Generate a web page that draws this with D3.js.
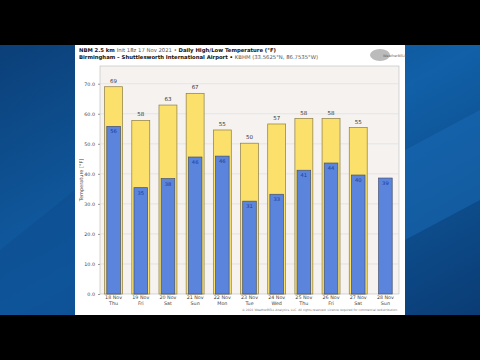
<!DOCTYPE html>
<html><head><meta charset="utf-8">
<script src="https://cdn.jsdelivr.net/npm/d3@7"></script>
<style>html,body{margin:0;padding:0;background:#000;}svg{display:block;font-family:"DejaVu Sans",sans-serif;}</style>
</head><body>
<svg id="c" width="480" height="360"></svg>
<script>
const dates = ["18 Nov","19 Nov","20 Nov","21 Nov","22 Nov","23 Nov","24 Nov","25 Nov","26 Nov","27 Nov","28 Nov"];
const days = ["Thu","Fri","Sat","Sun","Mon","Tue","Wed","Thu","Fri","Sat","Sun"];
const highs = [69.0, 57.8, 62.9, 66.8, 54.6, 50.2, 56.6, 58.4, 58.4, 55.4, null];
const lows = [55.8, 35.4, 38.4, 45.6, 45.9, 30.9, 33.2, 41.2, 43.6, 39.6, 38.6];
const yTicks = [0,10,20,30,40,50,60,70];

const svg = d3.select("#c");
// background
svg.append("rect").attr("x",0).attr("y",0).attr("width",480).attr("height",360).attr("fill","#000");
const defs = svg.append("defs");
const g1 = defs.append("linearGradient").attr("id","bg").attr("x1","0").attr("y1","0").attr("x2","1").attr("y2","1");
g1.append("stop").attr("offset","0").attr("stop-color","#0b3f78");
g1.append("stop").attr("offset","0.5").attr("stop-color","#1160a8");
g1.append("stop").attr("offset","1").attr("stop-color","#0a3c74");
svg.append("rect").attr("x",0).attr("y",45).attr("width",480).attr("height",270).attr("fill","url(#bg)");
svg.append("path").attr("d","M0,250 L75,190 L75,315 L0,315Z").attr("fill","#0d4d90").attr("opacity",0.6);
svg.append("path").attr("d","M405,150 L480,110 L480,200 L405,240Z").attr("fill","#1a6bb8").attr("opacity",0.5);
svg.append("rect").attr("x",75).attr("y",45).attr("width",330).attr("height",270).attr("fill","#fff");

// titles
const t1 = svg.append("text").attr("x",79).attr("y",52).attr("font-size",5.3).attr("fill","#111");
t1.append("tspan").attr("font-weight","bold").text("NBM 2.5 km ");
t1.append("tspan").attr("fill","#555").text("Init 18z 17 Nov 2021 • ");
t1.append("tspan").attr("font-weight","bold").text("Daily High/Low Temperature (°F)");
const t2 = svg.append("text").attr("x",79).attr("y",59).attr("font-size",5.3).attr("fill","#111");
t2.append("tspan").attr("font-weight","bold").text("Birmingham – Shuttlesworth International Airport • ");
t2.append("tspan").attr("fill","#555").text("KBHM (33.5625°N, 86.7535°W)");
// logo
svg.append("ellipse").attr("cx",380).attr("cy",55).attr("rx",10).attr("ry",6).attr("fill","#bbb");
svg.append("text").attr("x",383).attr("y",57).attr("font-size",3.5).attr("fill","#666").text("WeatherBELL");

const L=100, R=399, T=66, B=294;
const x = d3.scaleBand().domain(dates).range([L,R]);
const y = d3.scaleLinear().domain([0,75.9]).range([B,T]);

svg.append("rect").attr("x",L).attr("y",T).attr("width",R-L).attr("height",B-T).attr("fill","#f5f2f0").attr("stroke","#bbb").attr("stroke-width",0.6);
svg.append("g").selectAll("line").data(yTicks.slice(1)).join("line")
  .attr("x1",L).attr("x2",R).attr("y1",d=>y(d)).attr("y2",d=>y(d)).attr("stroke","#dcdcdc").attr("stroke-width",0.6);

const yAxis = svg.append("g").attr("transform",`translate(${L},0)`)
  .call(d3.axisLeft(y).tickValues(yTicks).tickFormat(d3.format(".1f")).tickSize(2));
yAxis.select(".domain").remove();
yAxis.selectAll("line").attr("stroke","#999");
yAxis.selectAll("text").attr("font-size",4.8).attr("fill","#444").attr("font-family","DejaVu Sans");
svg.append("text").attr("transform","translate(83,180) rotate(-90)").attr("text-anchor","middle")
  .attr("font-size",5).attr("fill","#444").text("Temperature [°F]");

const hw = x.bandwidth()*0.66, lw = x.bandwidth()*0.5;
const hiIdx = d3.range(dates.length).filter(i=>highs[i]!=null);
svg.append("g").selectAll("rect").data(hiIdx).join("rect")
  .attr("x",i=>x(dates[i])+(x.bandwidth()-hw)/2).attr("width",hw)
  .attr("y",i=>y(highs[i])).attr("height",i=>B-y(highs[i]))
  .attr("fill","#fbe16b").attr("stroke","#8c7d45").attr("stroke-width",0.7);
svg.append("g").selectAll("rect").data(d3.range(dates.length)).join("rect")
  .attr("x",i=>x(dates[i])+(x.bandwidth()-lw)/2).attr("width",lw)
  .attr("y",i=>y(lows[i])).attr("height",i=>B-y(lows[i]))
  .attr("fill","#5b85dc").attr("stroke","#44506e").attr("stroke-width",0.7);

svg.append("g").selectAll("text").data(hiIdx).join("text")
  .attr("x",i=>x(dates[i])+x.bandwidth()/2).attr("y",i=>y(highs[i])-4)
  .attr("text-anchor","middle").attr("font-size",5.5).attr("fill","#333")
  .text(i=>Math.round(highs[i]));
svg.append("g").selectAll("text").data(d3.range(dates.length)).join("text")
  .attr("x",i=>x(dates[i])+x.bandwidth()/2).attr("y",i=>y(lows[i])+7)
  .attr("text-anchor","middle").attr("font-size",5.2).attr("fill","#1a3a9a")
  .text(i=>Math.round(lows[i]));

const xl = svg.append("g").selectAll("text").data(dates.map((d,i)=>i)).join("text")
  .attr("text-anchor","middle").attr("font-size",4.8).attr("fill","#444");
xl.append("tspan").attr("x",i=>x(dates[i])+x.bandwidth()/2).attr("y",299).text(i=>dates[i]);
xl.append("tspan").attr("x",i=>x(dates[i])+x.bandwidth()/2).attr("y",305).text(i=>days[i]);

svg.append("text").attr("x",398).attr("y",311).attr("text-anchor","end").attr("font-size",3).attr("fill","#777")
  .text("© 2021 WeatherBELL Analytics, LLC. All rights reserved. Licence required for commercial redistribution.");
</script>
</body></html>
